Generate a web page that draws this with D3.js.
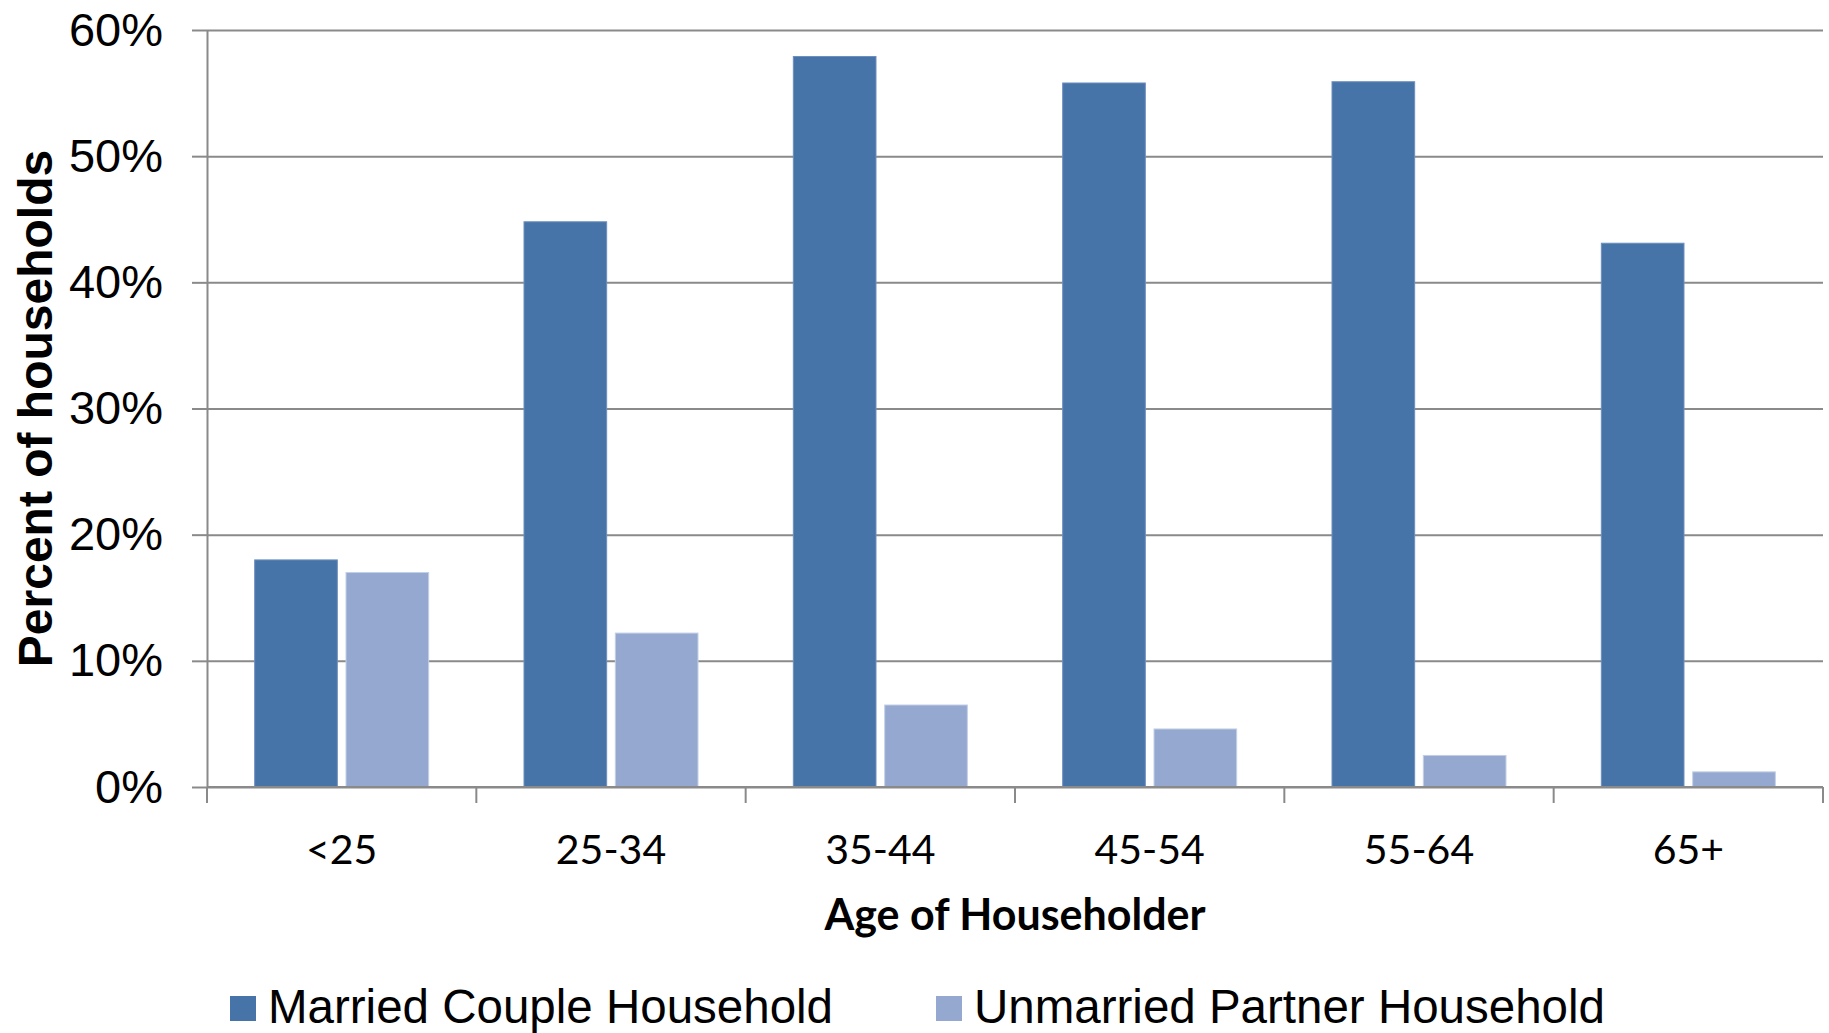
<!DOCTYPE html>
<html>
<head>
<meta charset="utf-8">
<script src="https://cdn.jsdelivr.net/npm/d3@7"></script>
<style>
  body { margin: 0; background: #fff; }
  svg { display: block; }
</style>
</head>
<body>
<div id="chart"></div>
<script>
// age groups and share of households in each type
const categories = ["<25", "25-34", "35-44", "45-54", "55-64", "65+"];
const seriesNames = ["Married Couple Household", "Unmarried Partner Household"];
const married = [0.180, 0.448, 0.579, 0.558, 0.559, 0.431];
const unmarried = [0.170, 0.122, 0.065, 0.046, 0.025, 0.012];
const yTicks = [0, 0.1, 0.2, 0.3, 0.4, 0.5, 0.6];
const colors = ["#4673A8", "#95A9D0"];
const edgeColors = ["#6d8fbd", "#c3cfe6"];

const W = 1829, H = 1033;
const margin = { top: 30, right: 6, bottom: 246, left: 207 };
const width = W - margin.left - margin.right;
const height = H - margin.top - margin.bottom;

const rows = categories.map((c, i) => ({ cat: c, values: [married[i], unmarried[i]] }));

const svg = d3.select("#chart")
    .append("svg")
    .attr("width", W)
    .attr("height", H);

const g = svg.append("g")
    .attr("transform", "translate(" + margin.left + "," + margin.top + ")");

const x0 = d3.scaleBand()
    .domain(categories)
    .range([0, width])
    .padding(0);

const groupW = 174;
const x1 = d3.scaleBand()
    .domain([0, 1])
    .range([x0.bandwidth() / 2 - groupW / 2, x0.bandwidth() / 2 + groupW / 2])
    .paddingInner(0.095)
    .paddingOuter(0);

const y = d3.scaleLinear()
    .domain([0, 0.6])
    .range([height, 0]);

// gridlines
g.append("g")
    .attr("class", "grid")
    .call(d3.axisLeft(y).tickValues(yTicks).tickSize(-width).tickFormat(""))
    .call(s => s.select(".domain").remove())
    .selectAll("line")
    .attr("stroke", "#8a8a8a")
    .attr("stroke-width", 2);

// bars
const groups = g.selectAll(".cat")
    .data(rows)
    .enter()
    .append("g")
    .attr("transform", d => "translate(" + x0(d.cat) + ",0)");

groups.selectAll("rect")
    .data(d => d.values.map((v, k) => ({ k: k, v: v })))
    .enter()
    .append("rect")
    .attr("x", d => x1(d.k))
    .attr("y", d => y(d.v))
    .attr("width", x1.bandwidth())
    .attr("height", d => height - y(d.v))
    .attr("fill", d => colors[d.k])
    .attr("stroke", d => edgeColors[d.k])
    .attr("stroke-width", 1);

// y axis
const yAxis = g.append("g")
    .call(d3.axisLeft(y).tickValues(yTicks).tickFormat(d3.format(".0%")).tickSize(15).tickSizeOuter(0).tickPadding(29));
yAxis.select(".domain").attr("stroke", "#8a8a8a").attr("stroke-width", 2);
yAxis.selectAll("line").attr("stroke", "#8a8a8a").attr("stroke-width", 2);
yAxis.selectAll("text")
    .attr("fill", "#000")
    .style("font-family", "'Liberation Sans', Arial, sans-serif")
    .style("font-size", "47px");

// x axis line + boundary ticks
const xAxis = g.append("g")
    .attr("transform", "translate(0," + height + ")");
xAxis.append("line")
    .attr("x1", 0).attr("x2", width)
    .attr("stroke", "#8a8a8a").attr("stroke-width", 2);
const bounds = categories.map(c => x0(c)).concat([x0(categories[categories.length - 1]) + x0.bandwidth()]);
xAxis.selectAll(".btick")
    .data(bounds)
    .enter()
    .append("line")
    .attr("x1", d => d).attr("x2", d => d)
    .attr("y1", 0).attr("y2", 16)
    .attr("stroke", "#8a8a8a").attr("stroke-width", 2);

const xLabels = g.append("g")
    .attr("transform", "translate(0," + height + ")")
    .call(d3.axisBottom(x0).tickSize(0).tickPadding(48));
xLabels.select(".domain").remove();
xLabels.selectAll("text")
    .attr("fill", "#000")
    .style("font-family", "Lato, 'Open Sans', sans-serif")
    .style("font-size", "41px");

// axis titles
svg.append("text")
    .attr("transform", "translate(52," + (margin.top + height / 2) + ") rotate(-90)")
    .style("text-anchor", "middle")
    .style("font-family", "'Liberation Sans', Arial, sans-serif")
    .style("font-weight", "bold")
    .style("font-size", "48px")
    .text("Percent of households");

svg.append("text")
    .attr("x", margin.left + width / 2)
    .attr("y", 930)
    .style("text-anchor", "middle")
    .style("font-family", "Lato, 'Open Sans', sans-serif")
    .style("font-weight", "bold")
    .style("font-size", "43px")
    .text("Age of Householder");

// legend
const legendX = [230, 936];
const legend = svg.selectAll(".legend")
    .data(seriesNames)
    .enter()
    .append("g")
    .attr("transform", (d, i) => "translate(" + legendX[i] + ",996)");
legend.append("rect")
    .attr("width", 26)
    .attr("height", 25)
    .attr("fill", (d, i) => colors[i]);
legend.append("text")
    .attr("x", 38)
    .attr("y", 27)
    .style("font-family", "'Liberation Sans', Arial, sans-serif")
    .style("font-size", "47.5px")
    .text(d => d);
</script>
</body>
</html>
